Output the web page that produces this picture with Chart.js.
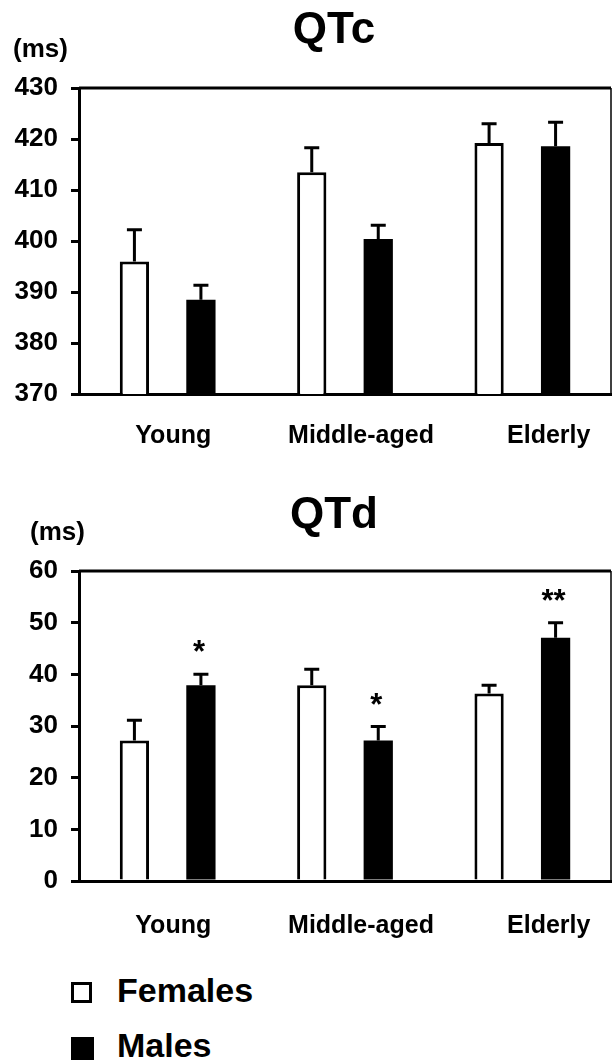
<!DOCTYPE html>
<html>
<head>
<meta charset="utf-8">
<script src="https://cdn.jsdelivr.net/npm/chart.js@4.4.1/dist/chart.umd.min.js"></script>
<style>
  body { margin: 0; background: #fff; width: 612px; height: 1064px; overflow: hidden; position: relative; }
  canvas { position: absolute; left: 0; }
  #qtc { top: 0; }
  #qtd { top: 480px; }
  .legend { position: absolute; left: 71px; font: bold 34px "Liberation Sans", Arial, sans-serif; color: #000; }
  .legend span.box { display: inline-block; width: 15px; height: 15px; border: 3px solid #000; vertical-align: top; }
  .legend span.txt { position: absolute; left: 46px; top: -11px; white-space: nowrap; }
</style>
</head>
<body>
<canvas id="qtc" width="612" height="480"></canvas>
<canvas id="qtd" width="612" height="480"></canvas>
<div class="legend" style="top:982px"><span class="box" style="background:#fff"></span><span class="txt">Females</span></div>
<div class="legend" style="top:1037px"><span class="box" style="background:#000;width:17px;height:17px"></span><span class="txt">Males</span></div>
<script>
const groups = ['Young', 'Middle-aged', 'Elderly'];

const qtcFemales = [396.0, 413.5, 419.2];
const qtcFemalesErr = [6.2, 4.8, 3.8];
const qtcMales = [388.5, 400.4, 418.6];
const qtcMalesErr = [2.8, 2.7, 4.7];

const qtdFemales = [27.2, 37.9, 36.3];
const qtdFemalesErr = [3.9, 3.1, 1.6];
const qtdMales = [37.9, 27.2, 47.1];
const qtdMalesErr = [2.1, 2.7, 2.9];
const qtdMalesSig = ['*', '*', '**'];

const FONT = '"Liberation Sans", Arial, sans-serif';
// the group labels sit a little off the bar pairs in the original
const labelPad = [['', '   '], ['', ''], ['   ', '']];

const panel = {
    id: 'panel',
    beforeDatasetsDraw(chart) {
        const a = chart.chartArea, ctx = chart.ctx;
        ctx.save();
        ctx.strokeStyle = '#000';
        ctx.lineWidth = 3;
        ctx.beginPath();
        ctx.moveTo(a.left, a.top);
        ctx.lineTo(a.right, a.top);
        ctx.stroke();
        ctx.lineWidth = 1.5;
        ctx.beginPath();
        ctx.moveTo(a.right, a.top);
        ctx.lineTo(a.right, a.bottom);
        ctx.stroke();
        ctx.restore();
    },
    afterDatasetsDraw(chart, args, opts) {
        const ctx = chart.ctx, y = chart.scales.y;
        ctx.save();
        ctx.strokeStyle = '#000';
        ctx.fillStyle = '#000';
        ctx.lineWidth = 3;
        chart.data.datasets.forEach((ds, d) => {
            chart.getDatasetMeta(d).data.forEach((bar, i) => {
                const top = y.getPixelForValue(ds.data[i] + ds.err[i]);
                ctx.beginPath();
                ctx.moveTo(bar.x, bar.y);
                ctx.lineTo(bar.x, top);
                ctx.moveTo(bar.x - 7.5, top);
                ctx.lineTo(bar.x + 7.5, top);
                ctx.stroke();
                if (ds.sig && ds.sig[i]) {
                    ctx.font = 'bold 31px ' + FONT;
                    ctx.textAlign = 'center';
                    ctx.textBaseline = 'alphabetic';
                    ctx.fillText(ds.sig[i], bar.x - 2, top - 12);
                }
            });
        });
        ctx.restore();
    },
    afterDraw(chart, args, opts) {
        const a = chart.chartArea, ctx = chart.ctx;
        ctx.save();
        ctx.fillStyle = '#000';
        ctx.textBaseline = 'alphabetic';
        ctx.font = 'bold 44px ' + FONT;
        ctx.textAlign = 'center';
        ctx.fillText(opts.title, (a.left + a.right) / 2 - 11, a.top - opts.titleGap);
        ctx.font = 'bold 26px ' + FONT;
        ctx.textAlign = 'left';
        ctx.fillText('(ms)', opts.unitX, a.top - 31);
        ctx.restore();
    }
};

function makeChart(id, fem, femErr, mal, malErr, malSig, min, max, top, plotH, labelGap, title, titleGap, unitX) {
    return new Chart(document.getElementById(id), {
        type: 'bar',
        data: {
            labels: groups,
            datasets: [
                { label: 'Females', data: fem, err: femErr, backgroundColor: '#fff', borderColor: '#000', borderWidth: 3 },
                { label: 'Males', data: mal, err: malErr, sig: malSig, backgroundColor: '#000', borderColor: '#000', borderWidth: 0 }
            ]
        },
        options: {
            responsive: false,
            animation: false,
            categoryPercentage: 0.75,
            barPercentage: 0.44,
            layout: { padding: { top: top, right: 1, left: 0, bottom: 0 } },
            plugins: {
                legend: { display: false },
                tooltip: { enabled: false },
                panel: { title: title, titleGap: titleGap, unitX: unitX }
            },
            scales: {
                x: {
                    grid: { display: false, drawTicks: false },
                    border: { display: true, color: '#000', width: 3 },
                    ticks: {
                        color: '#000', font: { family: FONT, size: 25, weight: 'bold' }, padding: labelGap, labelOffset: 16,
                        callback(v, i) { return labelPad[i][0] + groups[i] + labelPad[i][1]; }
                    },
                    afterFit(s) { s.height = 480 - top - plotH; }
                },
                y: {
                    min: min, max: max,
                    grid: { drawOnChartArea: false, color: '#000', lineWidth: 3, tickLength: 8 },
                    border: { display: true, color: '#000', width: 3 },
                    ticks: { stepSize: 10, color: '#000', font: { family: FONT, size: 26, weight: 'bold' }, padding: 13 },
                    afterFit(s) { s.width = 79; }
                }
            }
        },
        plugins: [panel]
    });
}

makeChart('qtc', qtcFemales, qtcFemalesErr, qtcMales, qtcMalesErr, null, 370, 430, 88, 306, 27, 'QTc', 45, 13);
makeChart('qtd', qtdFemales, qtdFemalesErr, qtdMales, qtdMalesErr, qtdMalesSig, 0, 60, 91, 310, 30, 'QTd', 43, 30);
</script>
</body>
</html>
